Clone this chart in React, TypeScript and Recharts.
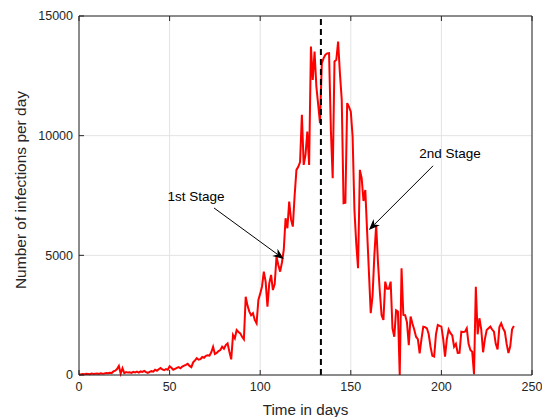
import React from "react";
import {
  LineChart,
  Line,
  XAxis,
  YAxis,
  CartesianGrid,
  ReferenceLine,
} from "recharts";

// daily new infections, day 0..240
const infections = [
  30, 20, 40, 30, 50, 40, 30, 60, 40, 50,
  60, 40, 70, 50, 60, 80, 70, 90, 80, 150,
  180, 250, 380, 60, 280, 80, 120, 100, 110, 90,
  130, 110, 140, 100, 150, 130, 170, 120, 90, 130,
  160, 140, 220, 180, 240, 290, 230, 200, 250, 220,
  360, 300, 220, 260, 300, 330, 280, 350, 390, 420,
  470, 380, 330, 530, 610, 700, 640, 660, 750, 720,
  800, 820, 810, 950, 1180, 880, 920, 1000, 1045, 1180,
  1100, 1250, 1320, 970, 655, 1670, 1530, 1880, 1800, 1740,
  1600, 1490, 3270, 2900, 2650, 2500, 2580, 2300, 2160, 3135,
  3400, 3700, 4320, 3900, 2850, 3830, 4180, 3550, 3800, 4945,
  4600, 4318, 4700, 5225, 6550, 6130, 7244, 6500, 6200, 7500,
  8570, 8700, 8900, 10870, 8780, 9200, 10170, 8780, 13720, 12330,
  13510, 12050, 11300, 10520, 13030, 13240, 13380, 13440, 13450, 10240,
  8220, 13100, 13170, 13930, 12600, 11500, 7180, 7200, 11360, 11200,
  11000, 9960, 6900, 5500, 4460, 8570, 8220, 7270, 7730, 6000,
  4300, 2580, 3300, 5000, 6270, 4700, 3500, 2500, 2300, 3900,
  3600, 3600, 3900, 1950, 1600, 2700, 2650, 0, 4460, 2510,
  2500, 2200, 1250, 2440, 2150, 1900, 1600, 1500, 900, 1500,
  2020, 2000, 1950, 1700, 1180, 800, 770, 1700, 2090, 2050,
  2020, 1500, 770, 1500, 1900, 1750, 1650, 1180, 1300, 920,
  930, 1810, 1800, 1810, 1950, 1300, 1045, 975, 30, 3690,
  1700, 2370, 1900, 950, 1500, 1880, 1950, 2020, 1900, 1810,
  1300, 1070, 2000, 2160, 1950, 1810, 1300, 920, 1200, 1910,
  2050,
];

const xTicks = [0, 50, 100, 150, 200, 250];
const yTicks = [0, 5000, 10000, 15000];
const stageDay = 133.5;

// annotation arrows: [tail, tip] in data units
const firstStage = [{ x: 74.5, y: 6980 }, { x: 113, y: 4850 }];
const secondStage = [{ x: 195.4, y: 8740 }, { x: 160, y: 6060 }];

const data = infections.map((v, i) => ({ day: i, cases: v }));

const FONT = "'Liberation Sans', Arial, Helvetica, sans-serif";
const INK = "#262626";

const arrowShape = (text: string, dx: number, dy: number) => (p: any) => {
  const { x1, y1, x2, y2 } = p;
  const ang = Math.atan2(y2 - y1, x2 - x1);
  const len = 11;
  const half = 4.5;
  const bx = x2 - len * Math.cos(ang);
  const by = y2 - len * Math.sin(ang);
  const nx = -Math.sin(ang);
  const ny = Math.cos(ang);
  const notchX = x2 - len * 0.7 * Math.cos(ang);
  const notchY = y2 - len * 0.7 * Math.sin(ang);
  const pts = [
    [x2, y2],
    [bx + nx * half, by + ny * half],
    [notchX, notchY],
    [bx - nx * half, by - ny * half],
  ]
    .map((q) => q.join(","))
    .join(" ");
  return (
    <g>
      <line x1={x1} y1={y1} x2={notchX} y2={notchY} stroke="#000" strokeWidth={1} />
      <polygon points={pts} fill="#000" />
      <text x={x1 + dx} y={y1 + dy} fontSize={13.5} fontFamily={FONT} fill="#000" textAnchor="middle">
        {text}
      </text>
    </g>
  );
};

export default function App() {
  return (
    <div style={{ position: "absolute", left: 0, top: 0, background: "#fff" }}>
      <LineChart width={542} height={417} data={data} margin={{ top: 0, right: 0, bottom: 0, left: 0 }}>
        <CartesianGrid
          xAxisId="b"
          yAxisId="l"
          stroke="#e3e3e3"
          strokeWidth={1}
          horizontalValues={yTicks}
          verticalValues={xTicks}
        />
        <XAxis
          xAxisId="b"
          dataKey="day"
          type="number"
          domain={[0, 250]}
          ticks={xTicks}
          height={42}
          tickSize={-5}
          tickMargin={12}
          stroke={INK}
          tick={{ fill: INK, fontSize: 12.5, fontFamily: FONT }}
          label={{
            content: () => (
              <text x={305.5} y={415} textAnchor="middle" fontSize={15.2} fontFamily={FONT} fill={INK}>
                Time in days
              </text>
            ),
          }}
        />
        <XAxis
          xAxisId="t"
          orientation="top"
          dataKey="day"
          type="number"
          domain={[0, 250]}
          ticks={xTicks}
          height={16}
          tickSize={-5}
          stroke={INK}
          tickFormatter={() => ""}
        />
        <YAxis
          yAxisId="l"
          type="number"
          domain={[0, 15000]}
          ticks={yTicks}
          width={79}
          tickSize={-5}
          tickMargin={11}
          stroke={INK}
          tick={{ fill: INK, fontSize: 12.5, fontFamily: FONT }}
          label={{
            content: () => (
              <text
                x={26}
                y={190}
                transform="rotate(-90 26 190)"
                textAnchor="middle"
                fontSize={15.5}
                fontFamily={FONT}
                fill={INK}
              >
                Number of infections per day
              </text>
            ),
          }}
        />
        <YAxis
          yAxisId="r"
          orientation="right"
          type="number"
          domain={[0, 15000]}
          ticks={yTicks}
          width={10}
          tickSize={-5}
          stroke={INK}
          tickFormatter={() => ""}
        />
        <Line
          xAxisId="b"
          yAxisId="l"
          type="linear"
          dataKey="cases"
          stroke="#ff0000"
          strokeWidth={2}
          dot={false}
          isAnimationActive={false}
        />
        <ReferenceLine
          xAxisId="b"
          yAxisId="l"
          x={stageDay}
          stroke="#000"
          strokeWidth={2}
          strokeDasharray="6 4"
        />
        <ReferenceLine
          xAxisId="b"
          yAxisId="l"
          segment={firstStage}
          shape={arrowShape("1st Stage", -18, -7)}
        />
        <ReferenceLine
          xAxisId="b"
          yAxisId="l"
          segment={secondStage}
          shape={arrowShape("2nd Stage", 17, -8)}
        />
      </LineChart>
    </div>
  );
}
